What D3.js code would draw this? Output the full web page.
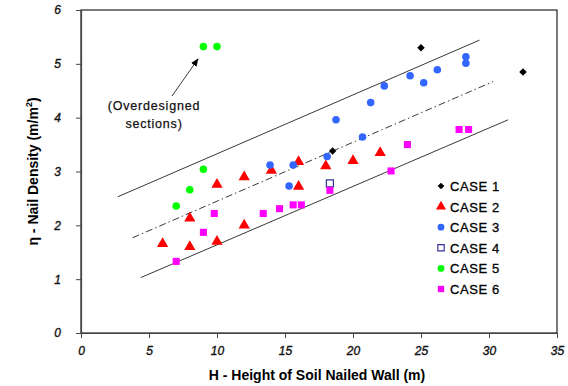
<!DOCTYPE html>
<html>
<head>
<meta charset="utf-8">
<script src="https://cdn.jsdelivr.net/npm/d3@7"></script>
<style>
  body { margin: 0; background: #fff; }
  text { font-family: "Liberation Sans", Arial, sans-serif; }
</style>
</head>
<body>
<div id="plot"></div>
<script>
// data: [H (m), nail density]
const case1 = [[25, 5.3], [32.5, 4.85], [18.5, 3.38]];
const case2 = [[6, 1.66], [8, 1.6], [8, 2.13], [10, 1.7], [10, 2.76], [12, 2.0], [12, 2.9],
               [14, 3.02], [16, 3.18], [16, 2.72], [18, 3.1], [20, 3.2], [22, 3.35]];
const case3 = [[13.9, 3.12], [15.6, 3.12], [15.3, 2.73], [18.1, 3.28], [18.75, 3.96], [20.7, 3.64],
               [21.3, 4.28], [22.3, 4.59], [24.2, 4.78], [25.2, 4.65], [26.2, 4.89], [28.3, 5.01], [28.3, 5.13]];
const case4 = [[18.3, 2.78]];
const case5 = [[9, 5.32], [10, 5.32], [9, 3.04], [8, 2.66], [7, 2.36]];
const case6 = [[7, 1.33], [9, 1.87], [9.8, 2.22], [13.4, 2.22], [14.6, 2.31], [15.6, 2.38], [16.2, 2.38],
               [18.3, 2.65], [22.8, 3.01], [24.0, 3.5], [27.8, 3.78], [28.5, 3.78]];

// bounding lines (start, end)
const upperLine = [[2.7, 2.53], [29.3, 5.44]];
const midLine = [[3.8, 1.77], [30.3, 4.67]];
const lowerLine = [[4.4, 1.03], [31.4, 3.96]];

const xTicks = [0, 5, 10, 15, 20, 25, 30, 35];
const yTicks = [0, 1, 2, 3, 4, 5, 6];
const caseNames = ["CASE 1", "CASE 2", "CASE 3", "CASE 4", "CASE 5", "CASE 6"];

const W = 568, H = 386;
const margin = {top: 10, right: 11, bottom: 53, left: 81};
const width = W - margin.left - margin.right;
const height = H - margin.top - margin.bottom;

const svg = d3.select("#plot").append("svg")
    .attr("width", W).attr("height", H);

svg.append("defs").append("marker")
    .attr("id", "arrow")
    .attr("viewBox", "0 0 10 10")
    .attr("refX", 9).attr("refY", 5)
    .attr("markerWidth", 9).attr("markerHeight", 9)
    .attr("orient", "auto")
    .append("path").attr("d", "M0,1 L10,5 L0,9 Z").attr("fill", "#000");

const g = svg.append("g")
    .attr("transform", "translate(" + margin.left + "," + margin.top + ")");

const x = d3.scaleLinear().domain([0, 35]).range([0, width]);
const y = d3.scaleLinear().domain([0, 6]).range([height, 0]);

// frame
g.append("rect")
    .attr("width", width).attr("height", height)
    .attr("fill", "none").attr("stroke", "#222").attr("stroke-width", 1.2);

// axes
const xAxis = g.append("g")
    .attr("transform", "translate(0," + height + ")")
    .call(d3.axisBottom(x).tickValues(xTicks).tickFormat(d3.format("d")).tickSize(5).tickSizeOuter(0).tickPadding(8));
const yAxis = g.append("g")
    .call(d3.axisLeft(y).tickValues(yTicks).tickFormat(d3.format("d")).tickSize(5).tickSizeOuter(0).tickPadding(15));
[xAxis, yAxis].forEach(a => {
  a.select(".domain").attr("stroke", "#444").attr("stroke-width", 1.2);
  a.selectAll(".tick line").attr("stroke", "#444");
  a.selectAll(".tick text")
      .style("font-size", "12px").style("font-style", "italic")
      .style("font-family", "'Liberation Sans', Arial, sans-serif")
      .attr("fill", "#111").attr("stroke", "#111").attr("stroke-width", 0.35);
});

// trend lines
const line = d3.line().x(d => x(d[0])).y(d => y(d[1]));
g.append("path").attr("d", line(upperLine)).attr("stroke", "#222").attr("fill", "none").attr("stroke-width", 0.9);
g.append("path").attr("d", line(lowerLine)).attr("stroke", "#222").attr("fill", "none").attr("stroke-width", 0.9);
g.append("path").attr("d", line(midLine)).attr("stroke", "#222").attr("fill", "none").attr("stroke-width", 0.9)
    .attr("stroke-dasharray", "7,3,1.5,3");

// marker symbols
const symType = {
  diamond: d3.symbolSquare,
  triangle: d3.symbolTriangle,
  circle: d3.symbolCircle,
  square: d3.symbolSquare
};
const symSize = {diamond: 28, triangle: 55, circle: 45, square: 50};

const series = [
  {data: case1, shape: "diamond", fill: "#000", stroke: "none"},
  {data: case2, shape: "triangle", fill: "#ff0000", stroke: "none"},
  {data: case3, shape: "circle", fill: "#3366ff", stroke: "none"},
  {data: case4, shape: "square", fill: "#fff", stroke: "#333399"},
  {data: case5, shape: "circle", fill: "#00ff00", stroke: "none"},
  {data: case6, shape: "square", fill: "#ff00ff", stroke: "none"}
];

series.forEach(s => {
  const rot = s.shape === "diamond" ? " rotate(45)" : "";
  g.selectAll(null).data(s.data).enter().append("path")
      .attr("d", d3.symbol().type(symType[s.shape]).size(symSize[s.shape])())
      .attr("transform", d => "translate(" + x(d[0]) + "," + y(d[1]) + ")" + rot)
      .attr("fill", s.fill)
      .attr("stroke", s.stroke).attr("stroke-width", 1.2);
});

// legend
const legend = g.append("g").attr("transform", "translate(360,176)");
series.forEach((s, i) => {
  const row = legend.append("g").attr("transform", "translate(0," + (i * 20.6) + ")");
  row.append("path")
      .attr("d", d3.symbol().type(symType[s.shape]).size(symSize[s.shape] * 0.8)())
      .attr("transform", s.shape === "diamond" ? "rotate(45)" : null)
      .attr("fill", s.fill).attr("stroke", s.stroke).attr("stroke-width", 1.2);
  row.append("text")
      .attr("x", 9).attr("y", 5)
      .style("font-size", "13px").style("letter-spacing", "0.6px")
      .attr("fill", "#000").attr("stroke", "#000").attr("stroke-width", 0.3)
      .text(caseNames[i]);
});

// annotation
g.append("line")
    .attr("x1", 91).attr("y1", 86).attr("x2", 117).attr("y2", 49)
    .attr("stroke", "#222").attr("stroke-width", 0.9)
    .attr("marker-end", "url(#arrow)");
const ann = g.append("text").attr("text-anchor", "middle")
    .style("font-size", "12.5px").style("letter-spacing", "0.8px")
    .attr("fill", "#111").attr("stroke", "#111").attr("stroke-width", 0.25);
ann.append("tspan").attr("x", 73).attr("y", 100).text("(Overdesigned");
ann.append("tspan").attr("x", 73).attr("y", 118).text("sections)");

// axis titles
svg.append("text")
    .attr("x", margin.left + width / 2 - 2).attr("y", 380)
    .attr("text-anchor", "middle")
    .style("font-size", "14px").style("font-weight", "bold")
    .text("H - Height of Soil Nailed Wall (m)");

const yt = svg.append("text")
    .attr("transform", "translate(38," + (margin.top + height / 2) + ") rotate(-90)")
    .attr("text-anchor", "middle")
    .style("font-size", "14px").style("font-weight", "bold");
yt.append("tspan").text("η - Nail Density (m/m");
yt.append("tspan").attr("dy", -6).style("font-size", "9px").text("2");
yt.append("tspan").attr("dy", 6).text(")");
</script>
</body>
</html>
